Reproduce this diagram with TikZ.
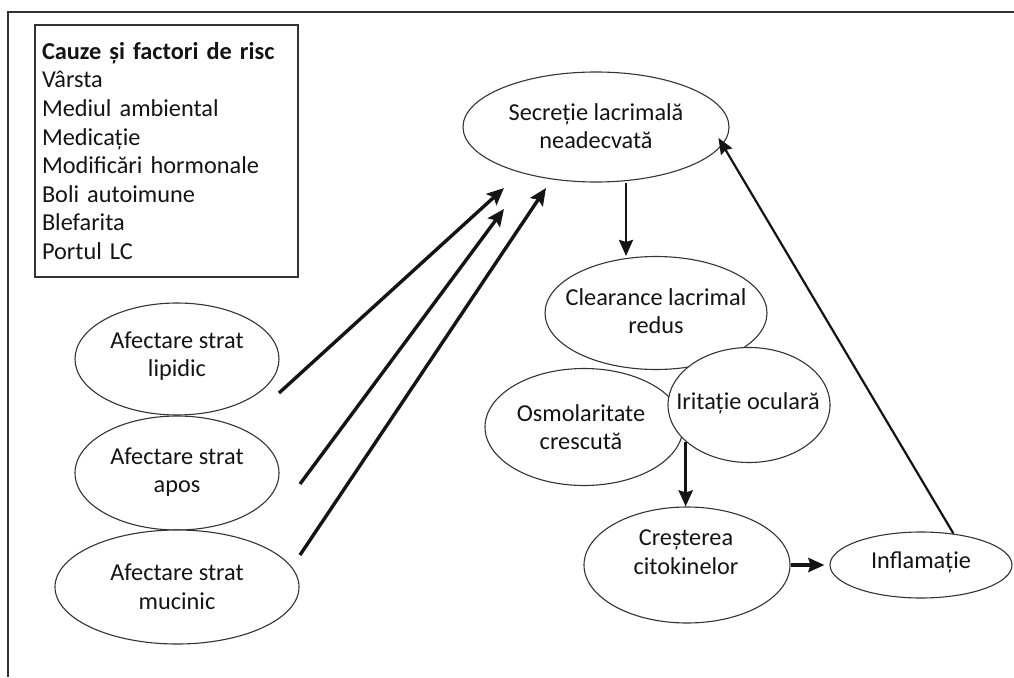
\documentclass[tikz,border=0pt]{standalone}
\usepackage{fontspec}
\setmainfont{Carlito}
\usetikzlibrary{shapes.geometric,arrows.meta}
\definecolor{ink}{HTML}{141414}
\definecolor{edgegray}{HTML}{333333}
\begin{document}
\begin{tikzpicture}[x=1pt,y=-1pt,
  oval/.style={ellipse, draw=edgegray, line width=1.1pt, fill=white, inner sep=0pt},
  lbl/.style={font=\fontsize{24.3}{28.5}\selectfont, align=center, text=ink, inner sep=0pt},
  riskbox/.style={rectangle, draw=edgegray, line width=1.6pt, minimum width=263pt, minimum height=252pt,
     text width=249pt, inner xsep=7pt, align=left, text=ink, font=\fontsize{24.3}{28.6}\selectfont},
  frameline/.style={draw=edgegray, line width=1.6pt},
  arrthick/.style={draw=ink, line width=3.4pt, -{Stealth[length=17pt,width=15pt,inset=3pt]}},
  arrmed/.style={draw=ink, line width=2.4pt, -{Stealth[length=16pt,width=14pt,inset=2pt]}},
  arrbold/.style={draw=ink, line width=3.6pt, -{Stealth[length=16pt,width=14pt,inset=2pt]}},
  arrthin/.style={draw=ink, line width=2.2pt, -{Stealth[length=16pt,width=13pt,inset=2pt]}}
]
\useasboundingbox (0,0) rectangle (1014,677);
\fill[white] (0,0) rectangle (1014,677);

% outer frame
\coordinate (fbl) at (8,677);
\coordinate (ftl) at (8,12);
\coordinate (ftr) at (1014,12);
\draw[frameline] (fbl) -- (ftl) -- (ftr);

% risk factor box
\node[riskbox] (risk) at (166.5,151) {\textbf{Cauze și factori de risc}\\Vârsta\\Mediul ambiental\\Medicație\\Modificări hormonale\\Boli autoimune\\Blefarita\\Portul LC};

% left ellipses
\node[oval, minimum width=204pt, minimum height=112pt] (lip) at (177,359) {};
\node[lbl] (lipt) at (177,356) {Afectare strat\\lipidic};
\node[oval, minimum width=204pt, minimum height=114pt] (apo) at (177,473) {};
\node[lbl] (apot) at (177,472) {Afectare strat\\apos};
\node[oval, minimum width=244pt, minimum height=114pt] (muc) at (177,587) {};
\node[lbl] (muct) at (177,587) {Afectare strat\\mucinic};

% top ellipse
\node[oval, minimum width=266pt, minimum height=110pt] (sec) at (596,127) {};
\node[lbl] (sect) at (596,126) {Secreție lacrimală\\neadecvată};

% middle cluster
\node[oval, minimum width=222pt, minimum height=113pt] (clr) at (656,313) {};
\node[lbl] (clrt) at (656,311) {Clearance lacrimal\\redus};
\node[oval, minimum width=198pt, minimum height=117pt] (osm) at (584,427) {};
\node[lbl] (osmt) at (581,427) {Osmolaritate\\crescută};
\node[oval, minimum width=162pt, minimum height=115pt] (iri) at (749,405) {};
\node[lbl] (irit) at (748,403) {Iritație oculară};

% bottom
\node[oval, minimum width=206pt, minimum height=116pt] (cre) at (687,565) {};
\node[lbl] (cret) at (686,552) {Creșterea\\citokinelor};
\node[oval, minimum width=182pt, minimum height=66pt] (inf) at (921,565) {};
\node[lbl] (inft) at (921,562) {Inflamație};

% free ends of the three converging arrows
\coordinate (s1) at (279,393);
\coordinate (e1) at (504,188);
\coordinate (s2) at (300,484);
\coordinate (e2) at (504,209);
\coordinate (s3) at (300,555);
\coordinate (e3) at (546,188);
\draw[arrthick] (s1) -- (e1);
\draw[arrthick] (s2) -- (e2);
\draw[arrthick] (s3) -- (e3);

% vertical arrow secretie -> clearance
\coordinate (x4) at (626,0);
\draw[arrmed] (sec.south -| x4) -- (clr.north -| x4);

% iritatie -> cresterea
\draw[arrbold] (iri.210) -- (iri.210 |- cre.north);

% cresterea -> inflamatie
\draw[arrbold, shorten >=5pt] (cre.east) -- (inf.west);

% inflamatie -> secretie
\draw[arrthin, shorten >=-8pt] (inf.44) -- (sec.-8);
\end{tikzpicture}
\end{document}
